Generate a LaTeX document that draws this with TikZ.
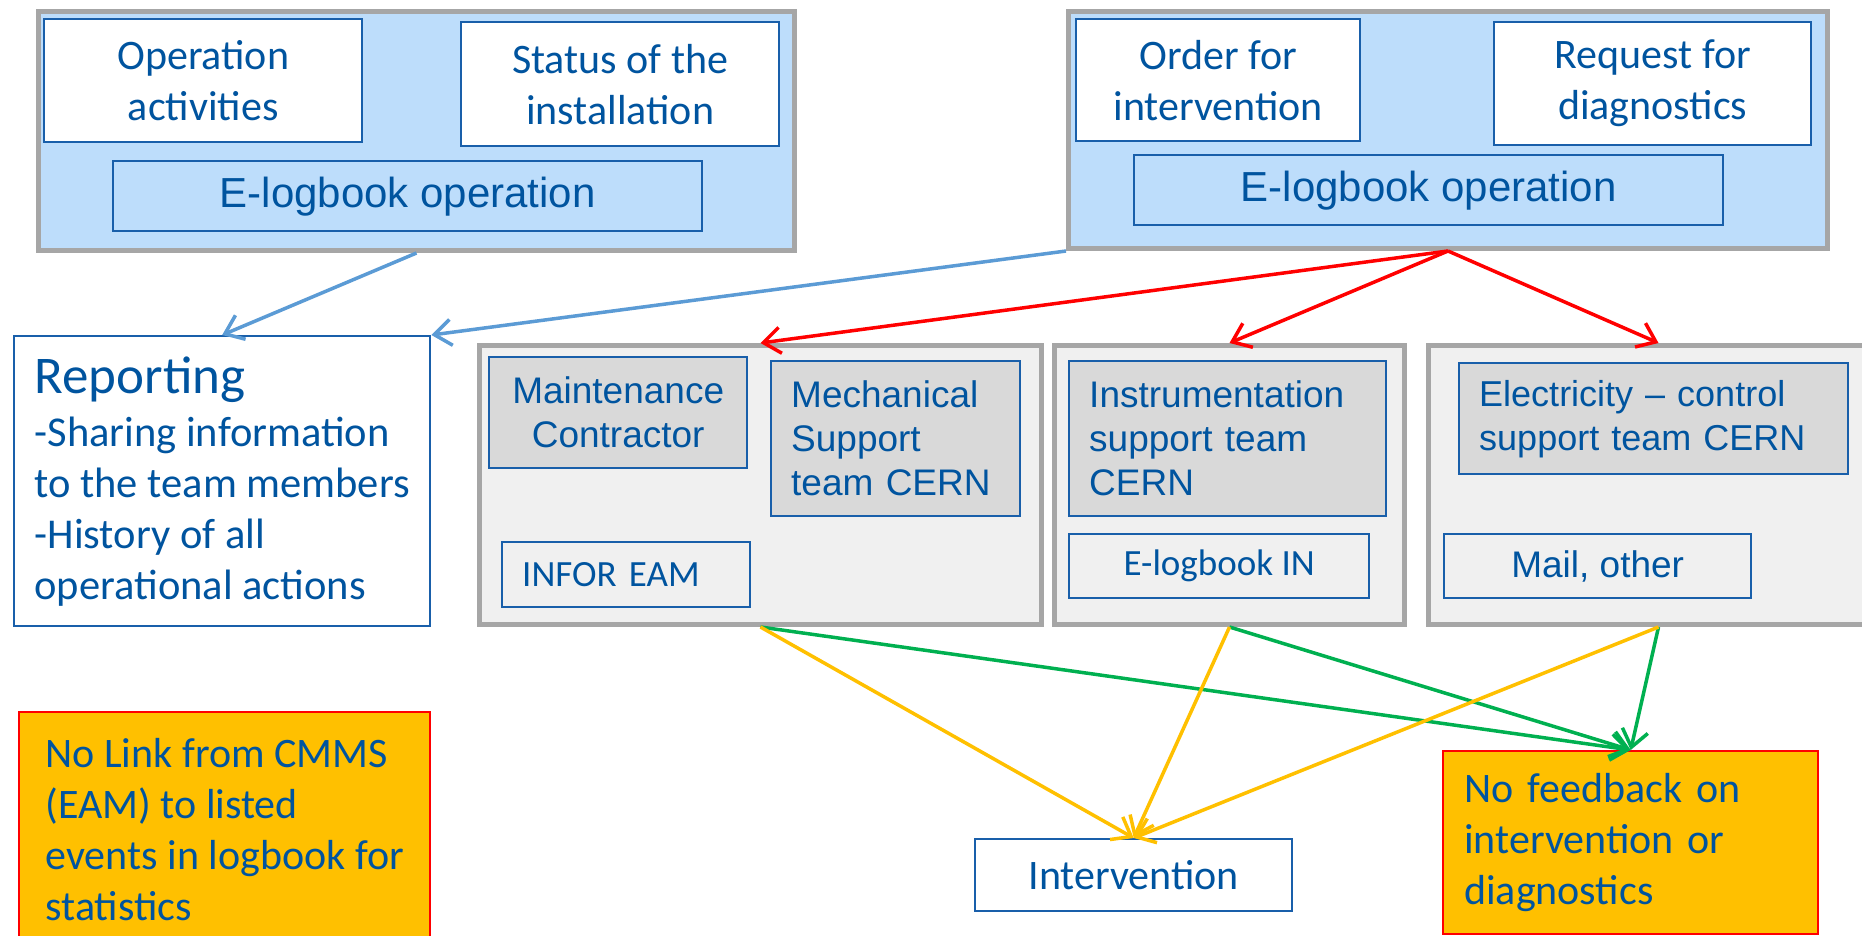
\documentclass[tikz,border=0pt]{standalone}
\usepackage{fontspec}
\setmainfont{Carlito}
\newfontfamily\arialfont{Liberation Sans}
\usetikzlibrary{arrows.meta}

\definecolor{txtblue}{RGB}{0,84,159}
\definecolor{lineblue}{RGB}{25,95,170}
\definecolor{lightblue}{RGB}{189,221,251}
\definecolor{framegray}{RGB}{166,166,166}
\definecolor{groupgray}{RGB}{240,240,240}
\definecolor{innergray}{RGB}{217,217,217}
\definecolor{warnorange}{RGB}{255,192,0}
\definecolor{arrblue}{RGB}{91,155,213}
\definecolor{arrgreen}{RGB}{0,176,80}
\definecolor{arryellow}{RGB}{255,192,0}

\begin{document}
\begin{tikzpicture}[x=1pt, y=-1pt,
        panelbox/.style={draw=framegray, line width=5pt, anchor=north west, inner sep=0pt},
        itembox/.style={draw=lineblue, line width=2.4pt, anchor=north west, inner sep=0pt, text=txtblue, align=center},
        warnbox/.style={draw=red, fill=warnorange, line width=2.4pt, anchor=north west, inner sep=0pt, text=txtblue, align=left},
        calibri/.style={font=\fontsize{42}{51}\selectfont},
        arial/.style={font=\arialfont\fontsize{37}{44}\selectfont},
        link/.style={line width=3.5pt, -{Straight Barb[length=17pt, width=26pt]}}]

                    \path [fill=white] (0,0) rectangle (1862,935);
                    \useasboundingbox (0,0) rectangle (1862,935);

                    % operation logbook
                    \node (opsgroup) at (36,9) [panelbox, fill=lightblue, minimum width=756pt, minimum height=239pt] {};
                    \node (opact) at (43,18) [itembox, fill=white, calibri, minimum width=318pt, minimum height=123pt] {Operation\\activities};
                    \node (status) at (460,21) [itembox, fill=white, calibri, minimum width=318pt, minimum height=124pt] {Status of the\\installation};
                    \node (oplog) at (112,160) [itembox, fill=lightblue, font=\arialfont\fontsize{42}{50}\selectfont, minimum width=589pt, minimum height=70pt] {E-logbook operation};

                    % orders and requests
                    \node (ordgroup) at (1066,9) [panelbox, fill=lightblue, minimum width=759pt, minimum height=237pt] {};
                    \node (order) at (1075,18) [itembox, fill=white, calibri, minimum width=284pt, minimum height=122pt] {Order for\\intervention};
                    \node (request) at (1493,21) [itembox, fill=white, calibri, minimum width=317pt, minimum height=123pt] {Request for\\diagnostics};
                    \node (ordlog) at (1133,154) [itembox, fill=lightblue, font=\arialfont\fontsize{42}{50}\selectfont, minimum width=589pt, minimum height=70pt] {E-logbook operation};

                    \node (report) at (13,335) [itembox, fill=white, align=left, minimum width=416pt, minimum height=290pt, font=\fontsize{42.5}{51}\selectfont] {{\fontsize{53}{56}\selectfont Reporting}\\[2pt]-Sharing information\\to the team members\\-History of all\\operational actions};

                    % support teams
                    \node (maint) at (477,343) [panelbox, fill=groupgray, minimum width=562pt, minimum height=279pt] {};
                    \node (contractor) at (488,356) [itembox, fill=innergray, arial, minimum width=258pt, minimum height=111pt] {Maintenance\\Contractor};
                    \node (mechanic) at (770,360) [itembox, fill=innergray, arial, align=left, inner xsep=20pt, text width=209pt, minimum height=155pt] {Mechanical\\Support\\team CERN};
                    \node (infor) at (501,541) [itembox, align=left, inner xsep=20pt, text width=208pt, minimum height=65pt, font=\fontsize{37}{44}\selectfont] {INFOR EAM};

                    \node (instr) at (1052,343) [panelbox, fill=groupgray, minimum width=350pt, minimum height=279pt] {};
                    \node (instrteam) at (1068,360) [itembox, fill=innergray, arial, align=left, inner xsep=20pt, text width=277pt, minimum height=155pt] {Instrumentation\\support team\\CERN};
                    \node (inlog) at (1068,533) [itembox, minimum width=300pt, minimum height=64pt, font=\fontsize{37}{44}\selectfont] {E-logbook IN};

                    \node (elec) at (1426,343) [panelbox, fill=groupgray, minimum width=460pt, minimum height=279pt] {};
                    \node (electeam) at (1458,362) [itembox, fill=innergray, align=left, inner xsep=20pt, text width=349pt, minimum height=111pt, font=\arialfont\fontsize{36}{44}\selectfont] {Electricity – control\\support team CERN};
                    \node (mail) at (1443,533) [itembox, arial, minimum width=307pt, minimum height=64pt] {Mail, other};

                    % outcomes
                    \node (interv) at (974,838) [itembox, fill=white, calibri, minimum width=317pt, minimum height=72pt] {Intervention};
                    \node (nofeed) at (1442,750) [warnbox, calibri, inner xsep=21pt, text width=333pt, minimum height=183pt] {No feedback on\\intervention or\\diagnostics};
                    \node (nolink) at (18,711) [warnbox, calibri, minimum width=411pt, minimum height=234pt] {No Link from CMMS\\(EAM) to listed\\events in logbook for\\statistics};

                    \path [link, arrblue]
                        (opsgroup.south) edge (report.north)
                        (ordgroup.south west) edge (report.north east)
                    ;
                    \path [link, red]
                        (ordgroup.south) edge (maint.north)
                        (ordgroup.south) edge (instr.north)
                        (ordgroup.south) edge (elec.north)
                    ;
                    \path [link, arrgreen]
                        (maint.south) edge (nofeed.north)
                        (instr.south) edge (nofeed.north)
                        (elec.south) edge (nofeed.north)
                    ;
                    \path [link, arryellow]
                        (maint.south) edge (interv.north)
                        (instr.south) edge (interv.north)
                        (elec.south) edge (interv.north)
                    ;
                \end{tikzpicture}
\end{document}
